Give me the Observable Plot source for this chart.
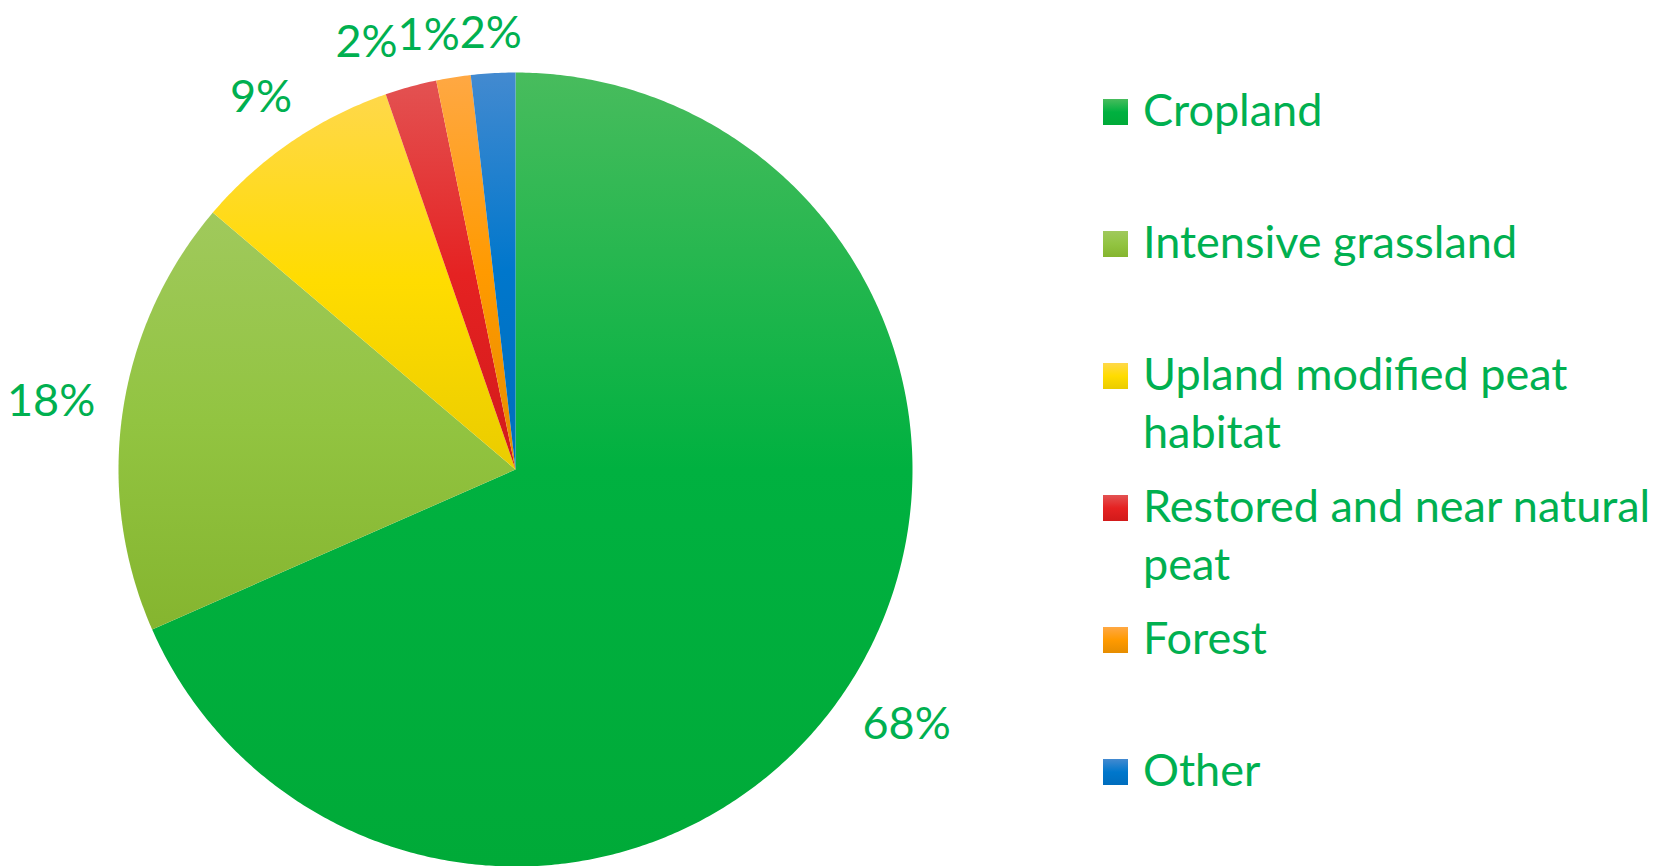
<!DOCTYPE html>
<html><head><meta charset="utf-8">
<script src="https://cdn.jsdelivr.net/npm/d3@7"></script>
<script src="https://cdn.jsdelivr.net/npm/@observablehq/plot@0.6"></script>
<style>
body{margin:0;background:#fff;font-family:Lato,sans-serif;}
#wrap{display:flex;width:1671px;height:866px;}
#legend{position:relative;width:586px;height:866px;}
.item{position:absolute;left:0;width:586px;}
.sw{position:absolute;left:18px;top:19px;width:25px;height:26px;}
.lab{position:absolute;left:58px;top:0;width:524px;font-size:45px;line-height:58px;color:#00B050;white-space:normal;}
</style></head><body><div id="wrap"><div id="chart"></div><div id="legend"></div></div>
<script>
// ---- data ----
const categories = ["Cropland", "Intensive grassland", "Upland modified peat habitat", "Restored and near natural peat", "Forest", "Other"];
const shares = [68.4, 17.8, 8.5, 2.1, 1.4, 1.8];
const shareLabels = ["68%", "18%", "9%", "2%", "1%", "2%"];

// ---- styles ----
const colorTop = ["#48BC5D", "#A0C95C", "#FFD84A", "#E35252", "#FFA843", "#438AD0"];
const colorMid = ["#00B140", "#92C441", "#FFDC00", "#E52222", "#FF9A00", "#0077CC"];
const colorBot = ["#00AA38", "#85B52F", "#EACC00", "#D21A1A", "#E68D00", "#006DBD"];
const textColor = "#00B050";
const FONT = 45;

const W = 1085, H = 866, R = 397, CX = 515, CY = 469;

const total = d3.sum(shares);
let acc = 0;
const slices = shares.map((v, i) => {
  const a0 = acc / total * 2 * Math.PI; acc += v;
  const a1 = acc / total * 2 * Math.PI;
  return {i, a0, a1, fill: `url(#g${i})`};
});
const pts = [];
slices.forEach(s => {
  pts.push({x: 0, y: 0, fill: s.fill});
  const n = Math.max(2, Math.ceil((s.a1 - s.a0) / (Math.PI / 360)));
  for (let k = 0; k <= n; k++) {
    const a = s.a0 + (s.a1 - s.a0) * k / n;
    pts.push({x: Math.sin(a), y: Math.cos(a), fill: s.fill});
  }
  pts.push({x: 0, y: 0, fill: s.fill});
});

// label placement (outside end)
const ctx = document.createElement("canvas").getContext("2d");
ctx.font = `${FONT}px Lato`;
const boxH = 34, vHalf = 11, gap = 27;
const lab = slices.map(s => {
  const m = (s.a0 + s.a1) / 2;
  const w = ctx.measureText(shareLabels[s.i]).width;
  const d = R + gap + w / 2 * Math.abs(Math.sin(m)) + vHalf * Math.abs(Math.cos(m));
  return {px: d * Math.sin(m), py: d * Math.cos(m), w, text: shareLabels[s.i]};
});
// resolve horizontal overlaps among neighbours (rightmost anchored)
for (let i = lab.length - 1; i > 0; i--) {
  const a = lab[i - 1], b = lab[i];
  if (Math.abs(a.py - b.py) < boxH) {
    const minDx = (a.w + b.w) / 2;
    if (b.px - a.px < minDx) a.px = b.px - minDx;
  }
}
lab.forEach(l => { l.x = l.px / R; l.y = l.py / R; });

const plot = Plot.plot({
  width: W, height: H, margin: 0,
  x: {domain: [-CX / R, (W - CX) / R], axis: null},
  y: {domain: [-(H - CY) / R, CY / R], axis: null},
  color: {type: "identity"},
  style: {background: "#fff"},
  marks: [
    Plot.line(pts, {x: "x", y: "y", z: "fill", fill: "fill", stroke: "none", curve: "linear"}),
    Plot.text(lab, {x: "x", y: "y", text: "text", fill: textColor, fontSize: FONT, fontFamily: "Lato", textAnchor: "middle"})
  ]
});
const ns = "http://www.w3.org/2000/svg";
const defs = document.createElementNS(ns, "defs");
slices.forEach(s => {
  const g = document.createElementNS(ns, "linearGradient");
  g.setAttribute("id", `g${s.i}`);
  g.setAttribute("x1", "0"); g.setAttribute("y1", "0");
  g.setAttribute("x2", "0"); g.setAttribute("y2", "1");
  [[0, colorTop[s.i]], [0.5, colorMid[s.i]], [1, colorBot[s.i]]].forEach(([o, c]) => {
    const st = document.createElementNS(ns, "stop");
    st.setAttribute("offset", o); st.setAttribute("stop-color", c);
    g.appendChild(st);
  });
  defs.appendChild(g);
});
plot.insertBefore(defs, plot.firstChild);
document.getElementById("chart").appendChild(plot);

// legend
const legend = document.getElementById("legend");
categories.forEach((c, i) => {
  const it = document.createElement("div");
  it.className = "item";
  it.style.top = (80 + i * 132) + "px";
  const sw = document.createElement("div");
  sw.className = "sw";
  sw.style.background = `linear-gradient(to bottom, ${colorTop[i]}, ${colorMid[i]} 50%, ${colorBot[i]})`;
  const t = document.createElement("div");
  t.className = "lab";
  t.textContent = c;
  it.appendChild(sw); it.appendChild(t);
  legend.appendChild(it);
});
</script></body></html>
